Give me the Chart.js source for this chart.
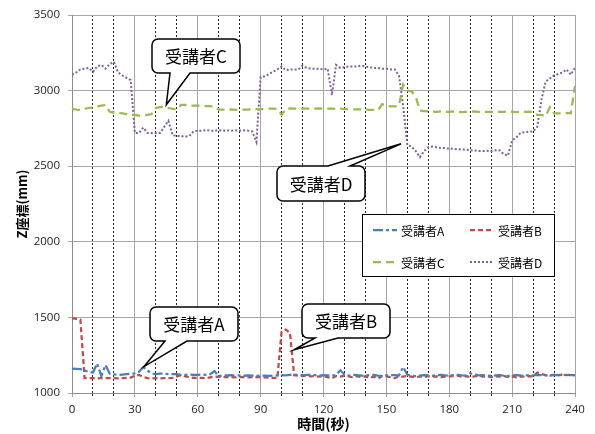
<!DOCTYPE html>
<html><head><meta charset="utf-8">
<script src="https://cdn.jsdelivr.net/npm/chart.js@4/dist/chart.umd.min.js"></script>
<style>html,body{margin:0;padding:0;background:#fff;}canvas{display:block;}</style>
</head><body>
<canvas id="c" width="595" height="434"></canvas>
<script>
// sample times (s)
const seconds = [
  0,2,4,6,8,10,12,14,16,18,
  20,22,24,26,28,30,32,34,36,38,
  40,42,44,46,48,50,52,54,56,58,
  60,62,64,66,68,70,72,74,76,78,
  80,82,84,86,88,90,92,94,96,98,
  100,102,104,106,108,110,112,114,116,118,
  120,122,124,126,128,130,132,134,136,138,
  140,142,144,146,148,150,152,154,156,158,
  160,162,164,166,168,170,172,174,176,178,
  180,182,184,186,188,190,192,194,196,198,
  200,202,204,206,208,210,212,214,216,218,
  220,222,224,226,228,230,232,234,236,238,
  240];
const seriesNames = ['受講者A','受講者B','受講者C','受講者D'];
const seriesA = [
  1162,1160,1158,1148,1140,1135,1195,1112,1185,1128,
  1125,1118,1122,1125,1128,1130,1140,1172,1150,1128,
  1125,1128,1127,1125,1125,1125,1120,1120,1122,1120,
  1120,1122,1120,1125,1145,1110,1118,1116,1118,1115,
  1117,1115,1116,1115,1114,1116,1115,1114,1116,1115,
  1118,1117,1120,1119,1120,1118,1120,1120,1118,1115,
  1118,1116,1114,1120,1150,1122,1115,1120,1118,1115,
  1116,1118,1120,1115,1112,1116,1118,1118,1116,1172,
  1120,1115,1112,1115,1118,1116,1114,1118,1120,1116,
  1115,1118,1120,1117,1115,1130,1122,1116,1118,1115,
  1114,1116,1118,1115,1112,1116,1118,1116,1115,1118,
  1116,1120,1118,1116,1118,1120,1118,1117,1120,1118,
  1118];
const seriesB = [
  1495,1490,1485,1100,1098,1098,1097,1099,1098,1098,
  1098,1097,1098,1100,1102,1115,1120,1106,1098,1097,
  1098,1097,1098,1098,1100,1110,1118,1110,1105,1100,
  1100,1100,1098,1104,1108,1106,1104,1106,1105,1103,
  1105,1106,1104,1105,1106,1105,1104,1102,1100,1098,
  1405,1420,1398,1118,1115,1112,1115,1110,1112,1108,
  1110,1105,1098,1112,1108,1115,1110,1104,1112,1106,
  1110,1100,1108,1095,1112,1110,1104,1098,1110,1108,
  1112,1108,1104,1110,1106,1112,1108,1110,1105,1108,
  1110,1112,1115,1108,1112,1106,1110,1115,1108,1112,
  1105,1110,1108,1112,1106,1110,1104,1110,1108,1112,
  1110,1135,1125,1118,1115,1120,1118,1122,1118,1120,
  1118];
const seriesC = [
  2880,2875,2870,2880,2885,2890,2895,2900,2905,2860,
  2855,2855,2850,2845,2840,2840,2835,2835,2840,2845,
  2885,2890,2890,2885,2880,2875,2905,2905,2900,2900,
  2900,2900,2898,2897,2895,2875,2875,2872,2875,2873,
  2875,2875,2874,2876,2877,2878,2878,2880,2880,2878,
  2840,2880,2882,2880,2882,2880,2880,2880,2880,2882,
  2880,2880,2880,2878,2880,2878,2877,2876,2876,2875,
  2875,2873,2872,2870,2910,2900,2895,2895,2900,3040,
  3000,2995,2960,2868,2865,2862,2862,2860,2862,2860,
  2860,2862,2860,2858,2860,2860,2862,2860,2858,2860,
  2860,2858,2860,2860,2862,2860,2858,2860,2860,2860,
  2860,2840,2840,2830,2890,2850,2850,2850,2852,2850,
  3030];
const seriesD = [
  3105,3120,3140,3145,3150,3125,3160,3170,3145,3175,
  3190,3120,3100,3085,3070,2720,2720,2755,2720,2720,
  2720,2720,2760,2800,2705,2700,2700,2695,2700,2730,
  2735,2735,2738,2735,2735,2738,2735,2737,2735,2738,
  2735,2737,2735,2730,2660,3090,3095,3110,3125,3140,
  3160,3135,3140,3140,3140,3165,3150,3145,3145,3145,
  3140,3145,2970,3170,3150,3155,3160,3160,3160,3165,
  3160,3155,3150,3150,3145,3145,3140,3140,3100,2900,
  2640,2630,2600,2560,2600,2625,2630,2625,2620,2620,
  2615,2615,2612,2610,2610,2605,2605,2600,2600,2602,
  2600,2605,2605,2580,2570,2670,2690,2720,2725,2728,
  2730,2760,2940,3060,3080,3100,3110,3120,3140,3105,
  3150];
const xGridTicks = [0,10,20,30,40,50,60,70,80,90,100,110,120,130,140,150,160,170,180,190,200,210,220,230,240];
const xLabelTicks = [0,30,60,90,120,150,180,210,240];
const yTicks = [1000,1500,2000,2500,3000,3500];
const xTitle = '時間(秒)';
const yTitle = 'Z座標(mm)';
// callouts: label and the data point the pointer touches
const calloutLabels = ['受講者C','受講者D','受講者A','受講者B'];
const calloutTipTime = [45, 157, 34.4, 106];
const calloutTipValue = [2906, 2648, 1175, 1286];

const styles = [
  {color:'#4a7ebb', dash:[10,3,3,3], width:2.25},
  {color:'#be4b48', dash:[5,3], width:2.25},
  {color:'#98b954', dash:[8,5], width:2.25},
  {color:'#7d60a0', dash:[2,2], width:2}
];
const allSeries = [seriesA, seriesB, seriesC, seriesD];

const datasets = allSeries.map((s, k) => ({
  label: seriesNames[k],
  data: seconds.map((t, i) => ({x: t, y: s[i]})),
  borderColor: styles[k].color,
  backgroundColor: styles[k].color,
  borderDash: styles[k].dash,
  borderWidth: styles[k].width,
  pointRadius: 0,
  tension: 0,
  fill: false
}));

const bgPlugin = {
  id: 'bg',
  beforeDraw(chart) {
    const c = chart.ctx; c.save(); c.fillStyle = '#fff';
    c.fillRect(0, 0, chart.width, chart.height); c.restore();
  }
};

// callout boxes (layout), pointer tips come from data via scales
const calloutBoxes = [
  {x0:152, y0:39, x1:240, y1:73, edge:'bottom', b1:170, b2:190},
  {x0:277, y0:166, x1:365, y1:201, edge:'top', b1:328, b2:350},
  {x0:150, y0:307, x1:238, y1:341, edge:'bottom', b1:165, b2:187},
  {x0:302, y0:304, x1:390, y1:338, edge:'bottom', b1:315, b2:338}
];
const calloutPlugin = {
  id: 'callouts',
  afterDatasetsDraw(chart) {
    const c = chart.ctx, xs = chart.scales.x, ys = chart.scales.y;
    calloutBoxes.forEach((b, i) => {
      const tx = xs.getPixelForValue(calloutTipTime[i]);
      const ty = ys.getPixelForValue(calloutTipValue[i]);
      const r = 6;
      c.save();
      c.beginPath();
      c.moveTo(b.x0 + r, b.y0);
      if (b.edge === 'top') { c.lineTo(b.b1, b.y0); c.lineTo(tx, ty); c.lineTo(b.b2, b.y0); }
      c.lineTo(b.x1 - r, b.y0);
      c.arcTo(b.x1, b.y0, b.x1, b.y0 + r, r);
      c.lineTo(b.x1, b.y1 - r);
      c.arcTo(b.x1, b.y1, b.x1 - r, b.y1, r);
      if (b.edge === 'bottom') { c.lineTo(b.b2, b.y1); c.lineTo(tx, ty); c.lineTo(b.b1, b.y1); }
      c.lineTo(b.x0 + r, b.y1);
      c.arcTo(b.x0, b.y1, b.x0, b.y1 - r, r);
      c.lineTo(b.x0, b.y0 + r);
      c.arcTo(b.x0, b.y0, b.x0 + r, b.y0, r);
      c.closePath();
      c.fillStyle = '#fff'; c.fill();
      c.lineWidth = 1.5; c.strokeStyle = '#000'; c.lineJoin = 'miter'; c.stroke();
      c.fillStyle = '#000';
      c.font = '17px "Noto Sans CJK JP", sans-serif';
      c.textAlign = 'center'; c.textBaseline = 'middle';
      c.fillText(calloutLabels[i], (b.x0 + b.x1) / 2, (b.y0 + b.y1) / 2 + 1);
      c.restore();
    });
  }
};

const legendPlugin = {
  id: 'customLegend',
  afterDraw(chart) {
    const c = chart.ctx;
    c.save();
    c.fillStyle = '#fff';
    c.fillRect(362, 214, 192, 62);
    c.strokeStyle = '#000'; c.lineWidth = 1;
    c.strokeRect(362.5, 214.5, 192, 62);
    const pos = [[373, 230], [470, 230], [373, 262], [470, 262]];
    chart.data.datasets.forEach((ds, i) => {
      const [x, y] = pos[i];
      c.beginPath();
      c.setLineDash(ds.borderDash);
      c.lineWidth = ds.borderWidth;
      c.strokeStyle = ds.borderColor;
      c.moveTo(x, y); c.lineTo(x + 24, y); c.stroke();
      c.setLineDash([]);
      c.fillStyle = '#000';
      c.font = '12px "Noto Sans CJK JP", sans-serif';
      c.textAlign = 'left'; c.textBaseline = 'middle';
      c.fillText(ds.label, x + 28, y + 1);
    });
    c.restore();
  }
};

const isMajor = (ctx) => ctx.tick && xLabelTicks.includes(ctx.tick.value);

new Chart(document.getElementById('c'), {
  type: 'line',
  data: { datasets },
  plugins: [bgPlugin, calloutPlugin, legendPlugin],
  options: {
    responsive: false,
    animation: false,
    events: [],
    layout: { padding: { top: 15, right: 20, left: 0, bottom: 0 } },
    plugins: { legend: { display: false }, tooltip: { enabled: false } },
    scales: {
      x: {
        type: 'linear', min: 0, max: 240,
        afterBuildTicks(scale) { scale.ticks = xGridTicks.map(v => ({value: v})); },
        afterFit(scale) { scale.height = 41; },
        ticks: {
          autoSkip: false, maxRotation: 0, padding: 6,
          color: '#222', font: { family: '"Open Sans", sans-serif', size: 11.5 },
          callback: (v) => xLabelTicks.includes(v) ? String(v) : ''
        },
        grid: {
          color: (ctx) => isMajor(ctx) ? '#a6a6a6' : '#222',
          lineWidth: 1, tickLength: 4,
          tickBorderDash: (ctx) => (ctx.tick && !isMajor(ctx)) ? [2, 2] : []
        },
        border: {
          color: '#8c8c8c', width: 1,
          dash: (ctx) => (ctx.tick && !isMajor(ctx)) ? [2, 2] : []
        },
        title: {
          display: true, text: xTitle, color: '#000',
          font: { family: '"Noto Sans CJK JP", sans-serif', size: 14, weight: 'bold' },
          padding: { top: 0, bottom: 2 }
        }
      },
      y: {
        type: 'linear', min: 1000, max: 3500,
        afterBuildTicks(scale) { scale.ticks = yTicks.map(v => ({value: v})); },
        afterFit(scale) { scale.width = 72; },
        ticks: {
          padding: 8, color: '#222',
          font: { family: '"Open Sans", sans-serif', size: 11.5 },
          callback: (v) => String(v)
        },
        grid: { color: '#a6a6a6', lineWidth: 1, tickLength: 4 },
        border: { color: '#8c8c8c', width: 1 },
        title: {
          display: true, text: yTitle, color: '#000',
          font: { family: '"Noto Sans CJK JP", sans-serif', size: 13, weight: 'bold' },
          padding: { top: 14, bottom: 0 }
        }
      }
    }
  }
});
</script>
</body></html>
